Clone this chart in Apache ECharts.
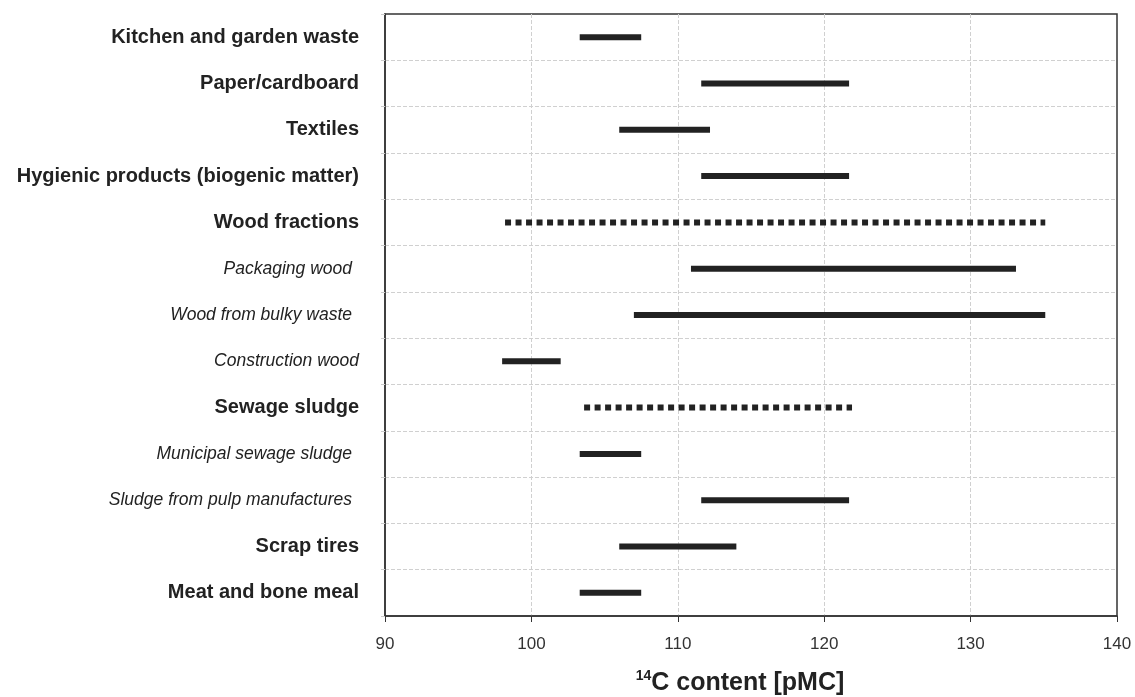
<!DOCTYPE html>
<html>
<head>
<meta charset="utf-8">
<script src="https://cdn.jsdelivr.net/npm/echarts@6/dist/echarts.min.js"></script>
<style>
  html, body { margin: 0; padding: 0; background: #fff; }
  #chart { width: 1135px; height: 697px; }
</style>
</head>
<body>
<div id="chart"></div>
<script>
// categories, top to bottom
const categories = [
  "Kitchen and garden waste",
  "Paper/cardboard",
  "Textiles",
  "Hygienic products (biogenic matter)",
  "Wood fractions",
  "Packaging wood",
  "Wood from bulky waste",
  "Construction wood",
  "Sewage sludge",
  "Municipal sewage sludge",
  "Sludge from pulp manufactures",
  "Scrap tires",
  "Meat and bone meal"
];
// 'main' = bold label, 'sub' = italic sub-fraction
const labelKind = ["main", "main", "main", "main", "main", "sub", "sub", "sub2", "main", "sub", "sub", "main", "main"];
// range of 14C content [pMC]
const lowValues = [103.3, 111.6, 106.0, 111.6, 98.2, 110.9, 107.0, 98.0, 103.6, 103.3, 111.6, 106.0, 103.3];
const highValues = [107.5, 121.7, 112.2, 121.7, 135.1, 133.1, 135.1, 102.0, 121.9, 107.5, 121.7, 114.0, 107.5];
// group totals drawn dotted
const lineStyleKind = ["solid", "solid", "solid", "solid", "dotted", "solid", "solid", "solid", "dotted", "solid", "solid", "solid", "solid"];
const xTicks = [90, 100, 110, 120, 130, 140];

let myChart = echarts.init(document.getElementById("chart"));

let rangeData = categories.map((c, i) => [i, lowValues[i], highValues[i], lineStyleKind[i] === "dotted" ? 1 : 0]);

let option = {
  backgroundColor: "#fff",
  animation: false,
  textStyle: { fontFamily: "Liberation Sans, Arial, sans-serif" },
  grid: {
    left: 385,
    right: 18,
    top: 14,
    bottom: 81,
    outerBoundsMode: "none",
    containLabel: false,
    show: true,
    borderColor: "#333",
    borderWidth: 1.5
  },
  xAxis: {
    type: "value",
    min: xTicks[0],
    max: xTicks[xTicks.length - 1],
    interval: 10,
    axisLine: { show: true, lineStyle: { color: "#333", width: 1.5 } },
    axisTick: { show: true, length: 6, lineStyle: { color: "#333" } },
    axisLabel: { color: "#333", fontSize: 17, margin: 20 },
    splitLine: { show: true, showMinLine: false, showMaxLine: false, lineStyle: { color: "#d0d0d0", type: [4, 2] } },
    name: "{sup|14}{t|C content [pMC]}",
    nameLocation: "middle",
    nameGap: 53,
    nameTextStyle: {
      padding: [0, 22, 0, 0],
      rich: {
        sup: { fontSize: 14, fontWeight: "bold", color: "#222", verticalAlign: "top", padding: [0, 0, 14, 0] },
        t: { fontSize: 25, fontWeight: "bold", color: "#222" }
      }
    }
  },
  yAxis: {
    type: "category",
    data: categories,
    inverse: true,
    axisLine: { show: true, lineStyle: { color: "#333", width: 1.5 } },
    axisTick: { show: true, length: 4, lineStyle: { color: "#ccc" } },
    splitLine: { show: true, showMinLine: false, showMaxLine: false, lineStyle: { color: "#d0d0d0", type: [4, 2] } },
    axisLabel: {
      margin: 26,
      formatter: function (v, i) {
        return "{" + labelKind[i] + "|" + v + "}";
      },
      rich: {
        main: { fontSize: 20, fontWeight: "bold", color: "#222" },
        sub: { fontSize: 17.5, fontStyle: "italic", color: "#222", padding: [0, 7, 0, 0] },
        sub2: { fontSize: 17.5, fontStyle: "italic", color: "#222", padding: [0, 0, 0, 0] }
      }
    }
  },
  series: [
    {
      type: "custom",
      data: rangeData,
      encode: { x: [1, 2], y: 0 },
      renderItem: function (params, api) {
        let start = api.coord([api.value(1), api.value(0)]);
        let end = api.coord([api.value(2), api.value(0)]);
        let dotted = api.value(3) === 1;
        return {
          type: "line",
          shape: { x1: start[0], y1: start[1], x2: end[0], y2: end[1] },
          style: {
            stroke: "#222",
            lineWidth: 6,
            lineDash: dotted ? [6, 4.5] : null
          }
        };
      }
    }
  ]
};

myChart.setOption(option);
</script>
</body>
</html>
